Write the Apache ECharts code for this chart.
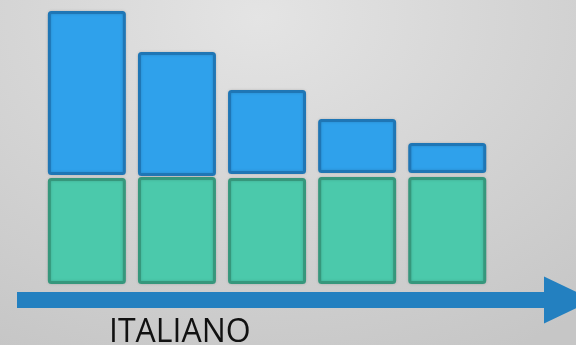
<!DOCTYPE html>
<html>
<head>
<meta charset="utf-8">
<title>ITALIANO</title>
<script src="https://cdn.jsdelivr.net/npm/echarts@6/dist/echarts.min.js"></script>
<style>
  html, body { margin: 0; padding: 0; }
  body {
    width: 576px; height: 345px; overflow: hidden;
    background: radial-gradient(ellipse 90% 110% at 45% 5%, #e4e4e4 0%, #d6d6d6 45%, #c6c6c6 100%);
  }
  #chart { width: 576px; height: 345px; }
</style>
</head>
<body>
<div id="chart"></div>
<script>
// Five stages, each a green base block with a blue block resting on it
const categories = ['1', '2', '3', '4', '5'];
const greenValues = [106, 107, 106, 107, 107];
const blueLow = [109, 108, 110, 111, 111];
const blueHigh = [273, 232, 194, 165, 141];
const axisTitle = 'ITALIANO';

const blueSize = blueHigh.map((v, i) => v - blueLow[i]);

const blueFill = '#2fa1eb';
const blueEdge = '#1f76b5';
const greenFill = '#4bc9ab';
const greenEdge = '#36977c';
const arrowColor = '#2380c0';

const chart = echarts.init(document.getElementById('chart'), null, { renderer: 'canvas' });

chart.setOption({
  animation: false,
  backgroundColor: 'transparent',
  title: {
    text: axisTitle,
    left: 104,
    top: 312,
    textStyle: {
      fontFamily: '"Open Sans", "DejaVu Sans", sans-serif',
      fontWeight: 'normal',
      fontSize: 32,
      color: '#111111'
    }
  },
  grid: [
    { left: 41.8, right: 83.7, top: 4, bottom: 61 },
    { left: 17, right: 7.5, top: 280, bottom: 45 }
  ],
  xAxis: [
    {
      gridIndex: 0,
      type: 'category',
      data: categories,
      axisLine: { show: false },
      axisTick: { show: false },
      axisLabel: { show: false },
      splitLine: { show: false }
    },
    {
      gridIndex: 1,
      type: 'value',
      min: 0,
      max: 1,
      axisLine: {
        show: true,
        symbol: ['none', 'triangle'],
        symbolSize: [47, 49],
        lineStyle: { color: arrowColor, width: 16, cap: 'butt' }
      },
      axisTick: { show: false },
      axisLabel: { show: false },
      splitLine: { show: false }
    }
  ],
  yAxis: [
    {
      gridIndex: 0,
      type: 'value',
      min: 0,
      max: 280,
      show: false,
      splitLine: { show: false }
    },
    {
      gridIndex: 1,
      type: 'value',
      min: 0,
      max: 1,
      show: false,
      splitLine: { show: false }
    }
  ],
  series: [
    {
      name: 'base',
      type: 'bar',
      xAxisIndex: 0,
      yAxisIndex: 0,
      barWidth: 78,
      barGap: '-100%',
      data: greenValues,
      itemStyle: {
        color: greenFill,
        borderColor: greenEdge,
        borderWidth: 3,
        borderRadius: 2,
        shadowColor: 'rgba(0,0,0,0.15)',
        shadowBlur: 3
      }
    },
    {
      name: 'offset',
      type: 'bar',
      stack: 'top',
      xAxisIndex: 0,
      yAxisIndex: 0,
      barWidth: 78,
      barGap: '-100%',
      silent: true,
      data: blueLow,
      itemStyle: { color: 'transparent' }
    },
    {
      name: 'top',
      type: 'bar',
      stack: 'top',
      xAxisIndex: 0,
      yAxisIndex: 0,
      barWidth: 78,
      barGap: '-100%',
      data: blueSize,
      itemStyle: {
        color: blueFill,
        borderColor: blueEdge,
        borderWidth: 3,
        borderRadius: 2,
        shadowColor: 'rgba(0,0,0,0.15)',
        shadowBlur: 3
      }
    }
  ]
});
</script>
</body>
</html>
